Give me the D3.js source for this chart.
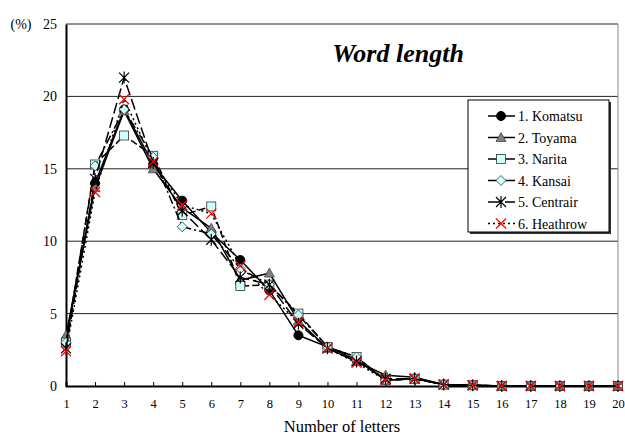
<!DOCTYPE html>
<html>
<head>
<meta charset="utf-8">
<script src="https://cdn.jsdelivr.net/npm/d3@7"></script>
<style>
  body { margin: 0; background: #fff; }
  svg text { font-family: 'Liberation Serif', 'DejaVu Serif', serif !important; fill: #000; }
</style>
</head>
<body>
<div id="chart"></div>
<script>
const letters = d3.range(1, 21)
const yTicks = [0, 5, 10, 15, 20, 25]

const seriesNames = ["1. Komatsu", "2. Toyama", "3. Narita", "4. Kansai", "5. Centrair", "6. Heathrow"]

const komatsu  = [3.2, 14.0, 19.1, 15.3, 12.8, 10.6, 8.7, 6.6, 3.5, 2.7, 1.8, 0.4, 0.5, 0.1, 0.05, 0, 0, 0, 0, 0]
const toyama   = [3.5, 13.7, 19.0, 15.0, 12.3, 10.9, 7.3, 7.8, 4.5, 2.6, 1.7, 0.75, 0.6, 0.1, 0.05, 0, 0, 0, 0, 0]
const narita   = [3.0, 15.3, 17.3, 15.9, 11.8, 12.4, 6.9, 7.0, 5.0, 2.7, 2.0, 0.4, 0.5, 0.1, 0.05, 0, 0, 0, 0, 0]
const kansai   = [3.0, 15.2, 19.1, 15.8, 11.0, 10.5, 8.1, 7.0, 4.9, 2.7, 2.0, 0.4, 0.5, 0.1, 0.05, 0, 0, 0, 0, 0]
const centrair = [2.6, 14.3, 21.3, 15.4, 12.1, 10.1, 7.5, 7.0, 4.3, 2.6, 1.7, 0.5, 0.5, 0.1, 0.05, 0, 0, 0, 0, 0]
const heathrow = [2.4, 13.4, 19.8, 15.5, 12.5, 11.9, 8.3, 6.3, 4.4, 2.6, 1.6, 0.4, 0.5, 0.1, 0.05, 0, 0, 0, 0, 0]

const seriesValues = [komatsu, toyama, narita, kansai, centrair, heathrow]

const svgWidth = 625, svgHeight = 438
const margin = { top: 24, right: 7, bottom: 52, left: 66 }
const width = svgWidth - margin.left - margin.right
const height = svgHeight - margin.top - margin.bottom
const serif = "'Liberation Serif', 'DejaVu Serif', serif"

// line dash + marker per series
const styles = [
    { dash: null, marker: "circle" },
    { dash: null, marker: "triangle" },
    { dash: "7,3", marker: "square" },
    { dash: "9,3,2,3", marker: "diamond" },
    { dash: "11,4", marker: "star" },
    { dash: "2,3", marker: "cross" }
]

const svg = d3.select("#chart").append("svg")
    .attr("width", svgWidth)
    .attr("height", svgHeight)
    .attr("font-family", serif)

const g = svg.append("g")
    .attr("transform", `translate(${margin.left}, ${margin.top})`)

const x = d3.scaleLinear().domain([1, 20]).range([0, width])
const y = d3.scaleLinear().domain([0, 25]).range([height, 0])

// gridlines
g.selectAll(".grid")
    .data(yTicks.filter(d => d > 0))
    .enter().append("line")
    .attr("x1", 0).attr("x2", width)
    .attr("y1", d => y(d)).attr("y2", d => y(d))
    .attr("stroke", "#222").attr("stroke-width", 1)

// right border
g.append("line")
    .attr("x1", width).attr("x2", width)
    .attr("y1", 0).attr("y2", height)
    .attr("stroke", "#888").attr("stroke-width", 1)

// axes
const xAxis = g.append("g")
    .attr("transform", `translate(0, ${height})`)
    .call(d3.axisBottom(x).tickValues(letters).tickSize(-4).tickPadding(13).tickFormat(d3.format("d")))
xAxis.attr("font-family", serif)
xAxis.select(".domain").attr("stroke", "#000").attr("stroke-width", 2)
xAxis.selectAll(".tick line").attr("stroke", "#000")
xAxis.selectAll("text").attr("font-size", 12.5)

const yAxis = g.append("g")
    .call(d3.axisLeft(y).tickValues(yTicks).tickSize(0).tickPadding(9))
yAxis.attr("font-family", serif)
yAxis.select(".domain").attr("stroke", "#000").attr("stroke-width", 2)
yAxis.selectAll("text").attr("font-size", 14)

// markers
function drawMarker(sel, type) {
    if (type === "circle") {
        sel.append("circle").attr("r", 4.5).attr("fill", "#000").attr("stroke", "#000")
    } else if (type === "triangle") {
        sel.append("path").attr("d", "M0,-5L5,4L-5,4Z").attr("fill", "#808080").attr("stroke", "#444").attr("stroke-width", 0.8)
    } else if (type === "square") {
        sel.append("rect").attr("x", -4.5).attr("y", -4.5).attr("width", 9).attr("height", 9)
            .attr("fill", "#ccffff").attr("stroke", "#333").attr("stroke-width", 0.8)
    } else if (type === "diamond") {
        sel.append("path").attr("d", "M0,-5L5,0L0,5L-5,0Z").attr("fill", "#ccffff").attr("stroke", "#333").attr("stroke-width", 0.8)
    } else if (type === "star") {
        sel.append("path").attr("d", "M-5,-5L5,5M-5,5L5,-5M0,-6L0,6")
            .attr("stroke", "#000").attr("stroke-width", 1.2).attr("fill", "none")
    } else if (type === "cross") {
        sel.append("path").attr("d", "M-5,-5L5,5M-5,5L5,-5")
            .attr("stroke", "#ff0000").attr("stroke-width", 1.2).attr("fill", "none")
    }
}

const line = d3.line().x((d, i) => x(letters[i])).y(d => y(d))

seriesValues.forEach((vals, si) => {
    const st = styles[si]
    g.append("path")
        .datum(vals)
        .attr("d", line)
        .attr("fill", "none")
        .attr("stroke", "#000")
        .attr("stroke-width", 1.5)
        .attr("stroke-dasharray", st.dash)

    g.selectAll(`.m${si}`)
        .data(vals)
        .enter().append("g")
        .attr("class", `m${si}`)
        .attr("transform", (d, i) => `translate(${x(letters[i])}, ${y(d)})`)
        .each(function() { drawMarker(d3.select(this), st.marker) })
})

// title
svg.append("text")
    .attr("x", 398).attr("y", 62)
    .attr("text-anchor", "middle")
    .attr("font-size", 26)
    .attr("font-weight", "bold")
    .attr("font-style", "italic")
    .text("Word length")

// axis labels
svg.append("text")
    .attr("x", 21).attr("y", 29)
    .attr("text-anchor", "middle")
    .attr("font-size", 14)
    .text("(%)")

svg.append("text")
    .attr("x", margin.left + width / 2).attr("y", 432)
    .attr("text-anchor", "middle")
    .attr("font-size", 16.5)
    .text("Number of letters")

// legend
const legend = svg.append("g").attr("transform", "translate(468, 100)")
legend.append("rect")
    .attr("x", 2).attr("y", 2).attr("width", 141).attr("height", 132)
    .attr("fill", "#333")
legend.append("rect")
    .attr("width", 141).attr("height", 132)
    .attr("fill", "#fff").attr("stroke", "#000").attr("stroke-width", 1)

seriesNames.forEach((name, si) => {
    const st = styles[si]
    const row = legend.append("g").attr("transform", `translate(0, ${16 + si * 21.5})`)
    row.append("line")
        .attr("x1", 20).attr("x2", 47)
        .attr("stroke", "#000").attr("stroke-width", 1.5)
        .attr("stroke-dasharray", st.dash === null ? null : (si === 5 ? "2,3" : "13,4"))
    drawMarker(row.append("g").attr("transform", "translate(33, 0)"), st.marker)
    row.append("text")
        .attr("x", 50).attr("y", 5)
        .attr("font-size", 14)
        .text(name)
})
</script>
</body>
</html>
